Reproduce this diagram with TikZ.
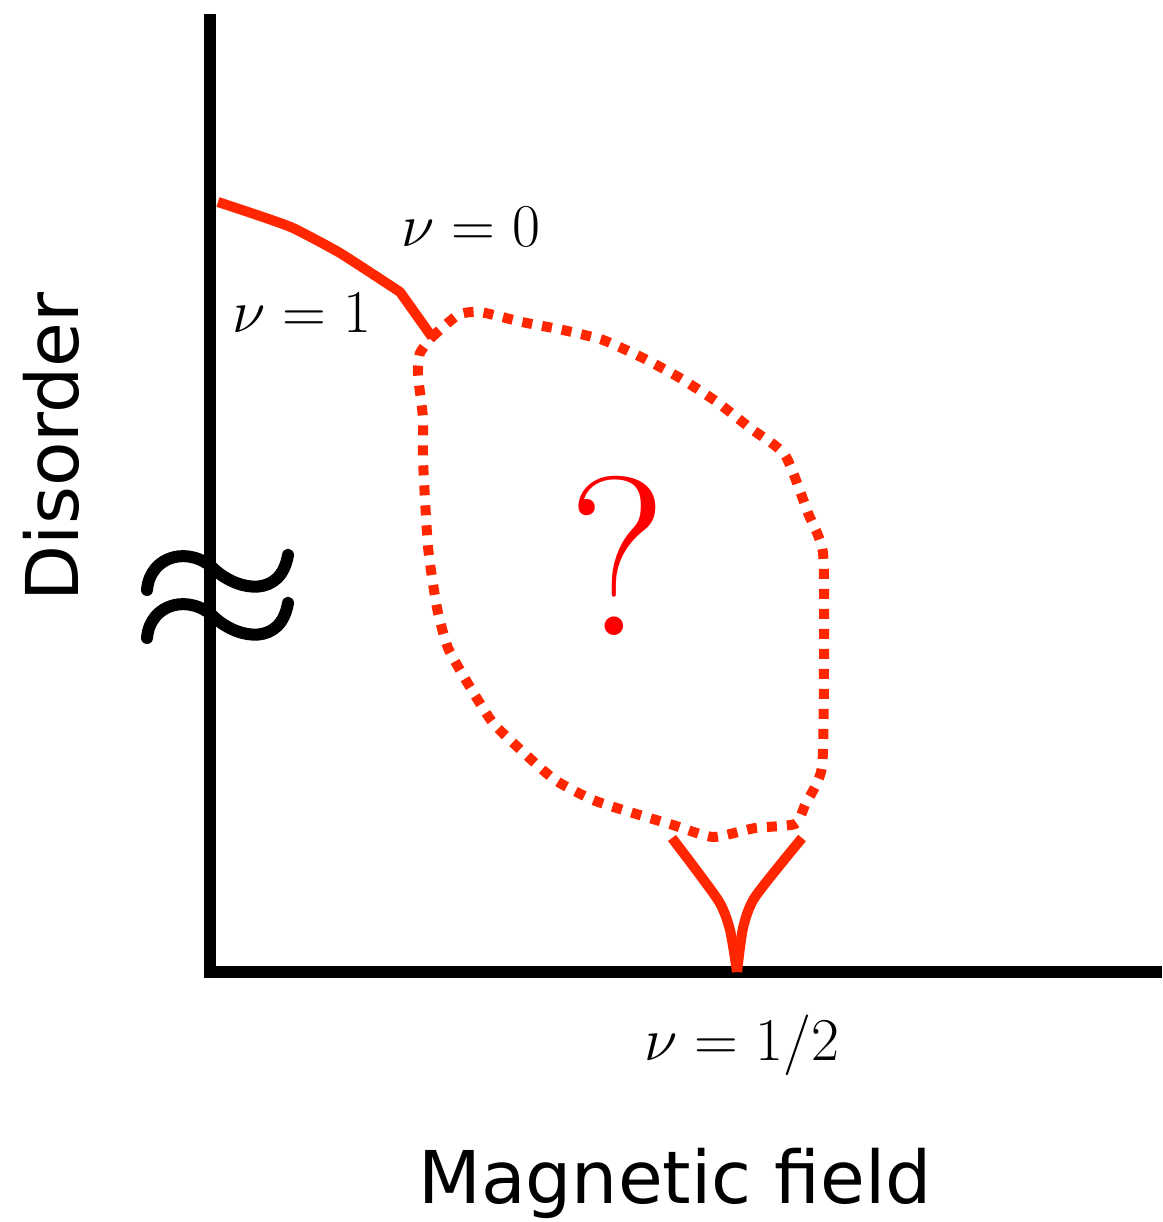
\documentclass[tikz,border=0pt]{standalone}
\usepackage{fontspec}
\setsansfont{DejaVu Sans}
\usepackage{tikz}
\usetikzlibrary{calc}

\definecolor{phasered}{RGB}{255,38,0}
\definecolor{qred}{RGB}{255,0,0}

\begin{document}
\begin{tikzpicture}[
    x=0.01cm, y=-0.01cm,
    axisline/.style={line width=0.12cm, black},
    phaseline/.style={line width=0.1cm, phasered, line join=round},
    dotline/.style={
        line width=0.1cm, phasered,
        dash pattern=on 0.1cm off 0.1cm
    },
    breakmark/.style={line width=0.12cm, black, line cap=round},
    axislbl/.style={font=\sffamily\fontsize{20.7}{24}\selectfont, inner sep=0pt, anchor=base},
    mathlbl/.style={font=\fontsize{16.6}{20}\selectfont, inner sep=0pt, anchor=base},
]
\useasboundingbox (0,0) rectangle (1162,1222);

% Key points
\coordinate (top) at (210,14);
\coordinate (origin) at (210,972);
\coordinate (xend) at (1162,972);
\coordinate (triple) at (432,337);
\coordinate (cusp) at (737,972);

% ============ Axes ============
\draw[axisline] (top) -- ($(origin)+(0,6)$);
\draw[axisline] ($(origin)+(-6,0)$) -- (xend);

% Axis break
\draw[breakmark] (147,590) .. controls (150,555) and (190,545) .. (215,570)
    .. controls (240,592) and (281,597) .. (288,555);
\draw[breakmark] (147,638) .. controls (150,603) and (190,593) .. (215,618)
    .. controls (240,640) and (281,645) .. (288,603);

% ============ Phase boundaries ============
\draw[phaseline] plot[smooth, tension=0.3] coordinates {
    (218,202) (257,215) (293,228) (340,253) (400,292)} -- (triple);

% V at half filling
\draw[phaseline] plot[smooth, tension=0.4] coordinates {
    (672,838) (718,900) (730,930) (737,972)};
\draw[phaseline] plot[smooth, tension=0.4] coordinates {
    (802,838) (755,897) (743,928) (737,972)};

% Unknown region
\draw[dotline] plot[smooth, tension=0.35] coordinates {
    (432,337) (458,315) (480,312) (522,322) (563,330) (603,340)
    (643,358) (680,378) (717,402) (750,428) (785,455) (808,513)
    (823,553) (824,660) (822,767) (805,805) (795,824) (755,828)
    (713,837) (673,825) (633,813) (593,800) (555,780) (523,752)
    (493,723) (470,687) (448,648) (437,608) (428,547) (423,460)
    (423,418) (418,375) (420,353) (432,337)};

% ============ Labels ============
\node[mathlbl] (nu0) at (471,247) {$\nu=0$};
\node[mathlbl] (nu1) at (302,333) {$\nu=1$};
\node[mathlbl] (nuhalf) at (742,1060) {$\nu=1/2$};
\node[inner sep=0pt, anchor=base, text=qred,
      font=\fontsize{64.5}{70}\selectfont] (qmark) at (618,635) {?};

\node[axislbl] (xlabel) at (675,1203) {Magnetic field};
\node[axislbl, rotate=90] (ylabel) at (78,447) {Disorder};

\end{tikzpicture}
\end{document}
